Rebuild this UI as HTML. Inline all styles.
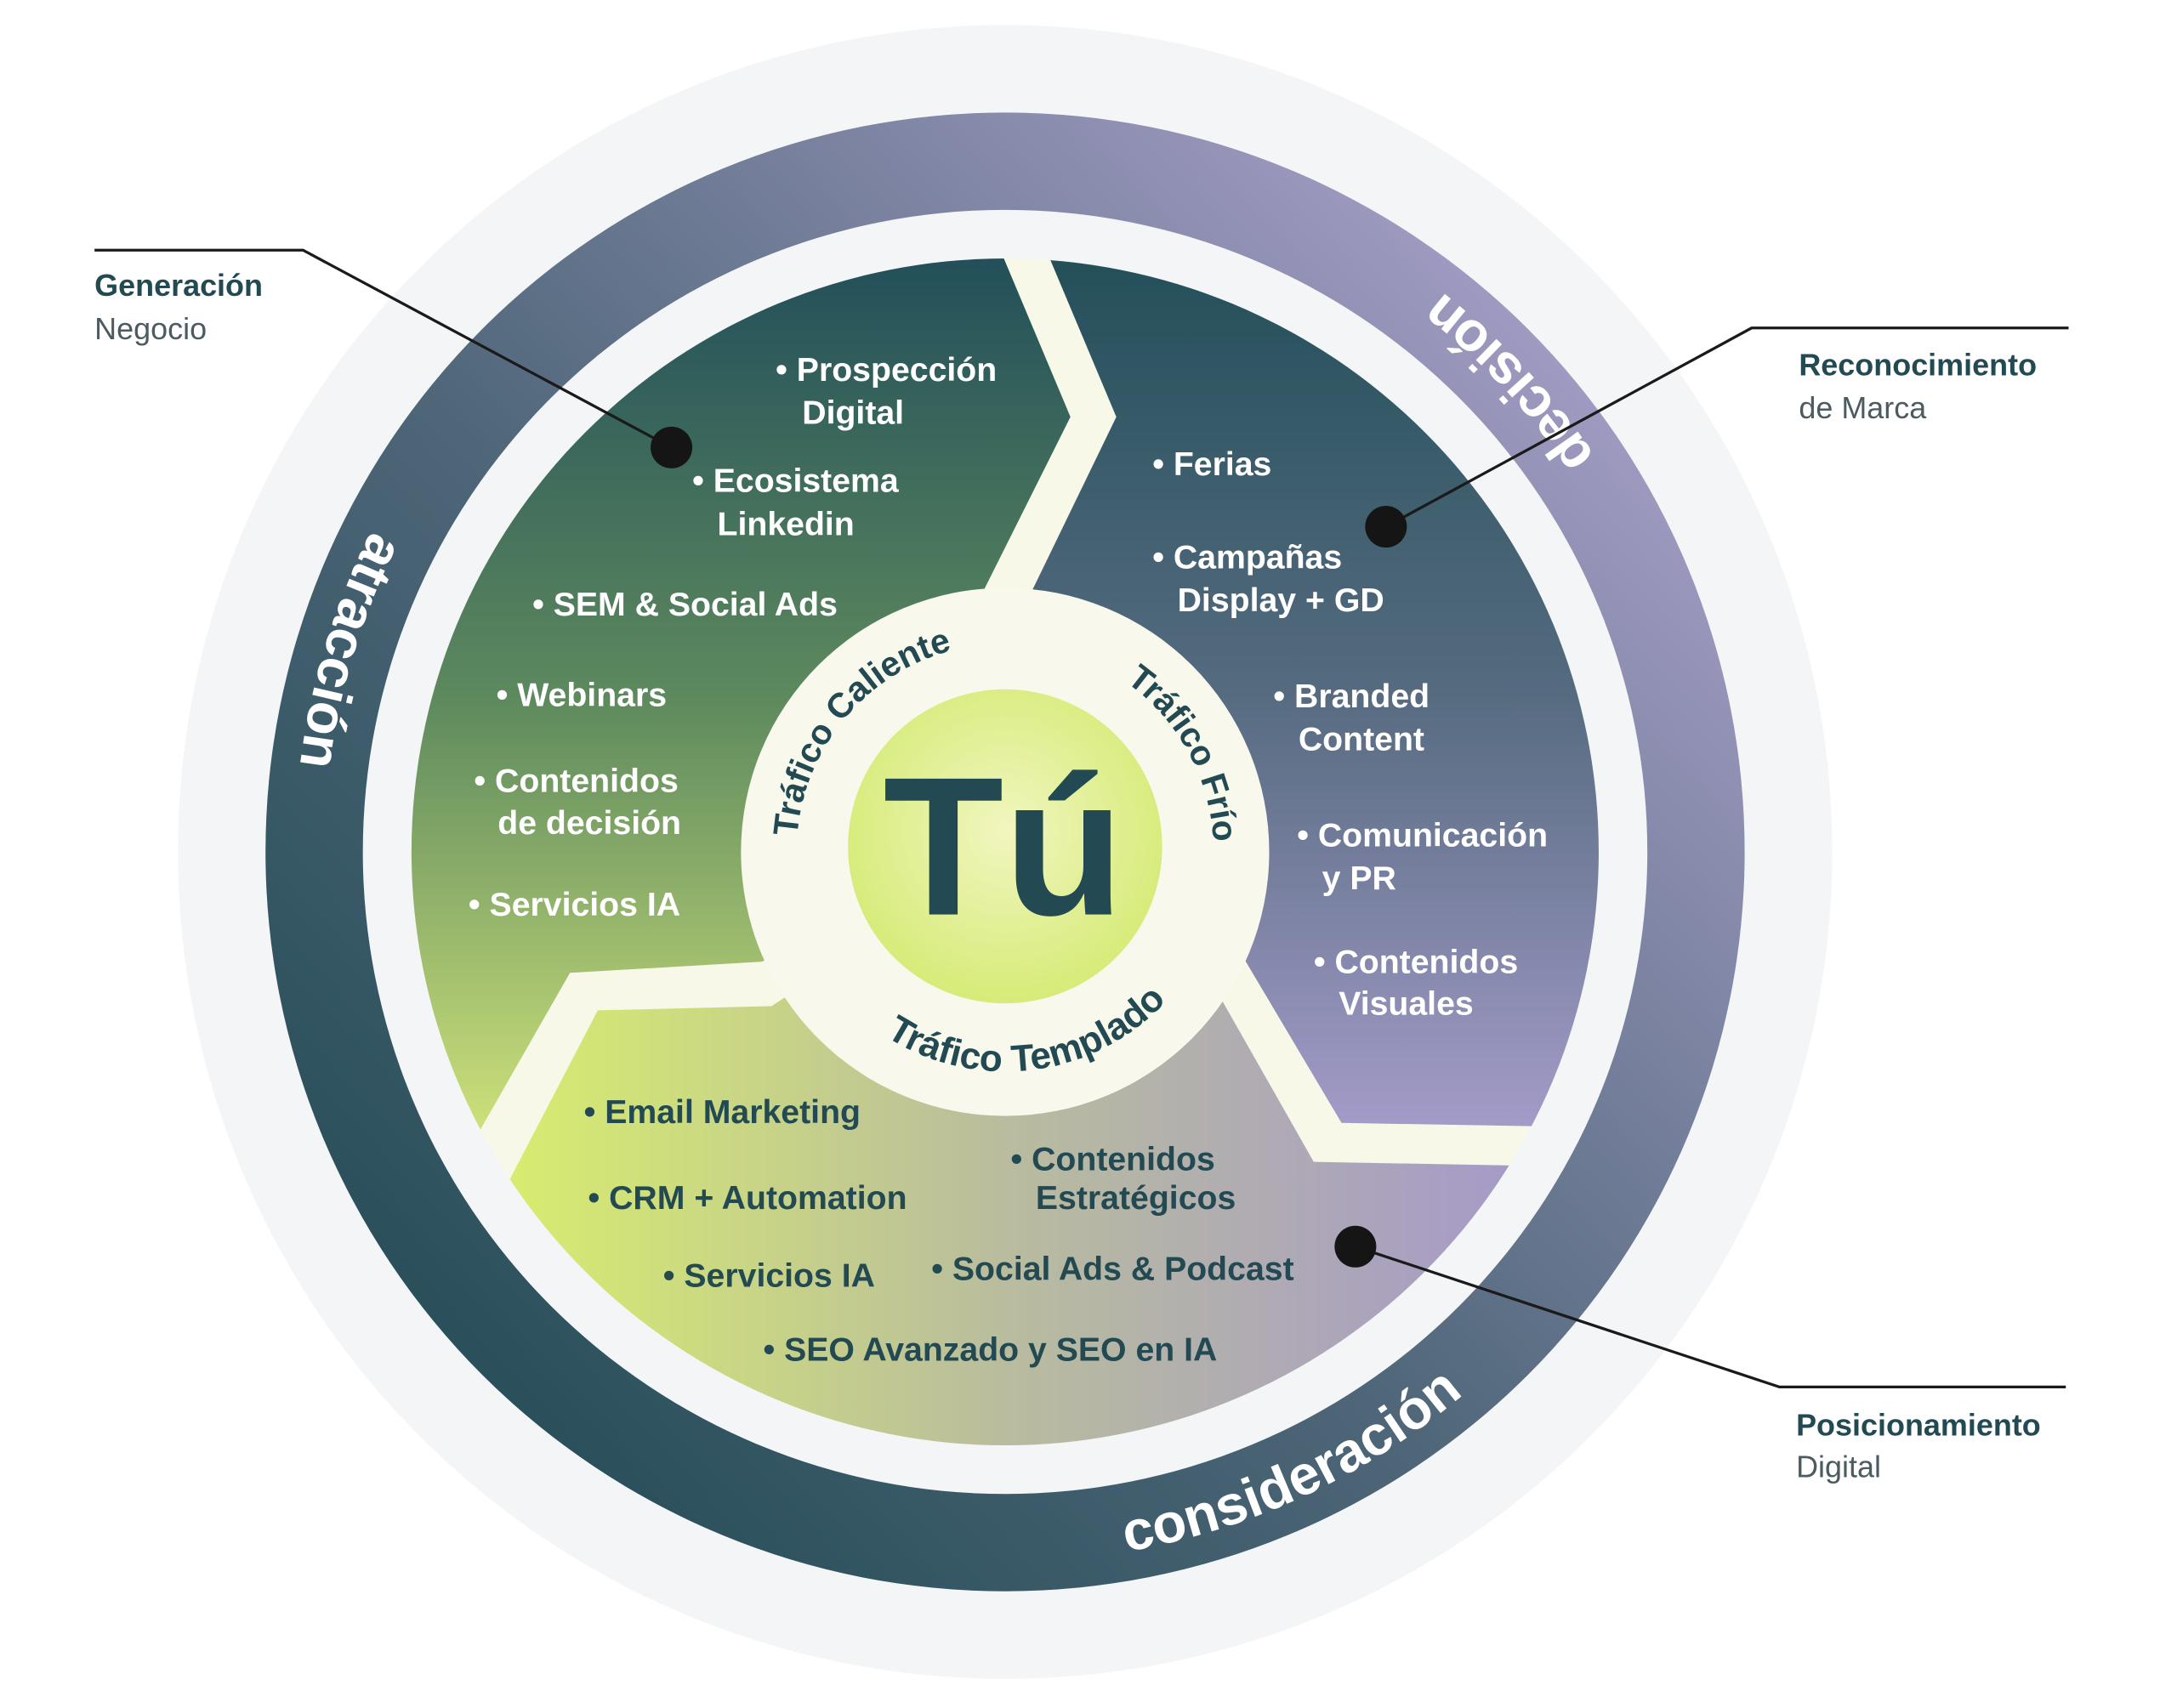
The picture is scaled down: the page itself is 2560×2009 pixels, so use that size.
<!DOCTYPE html>
<html><head><meta charset="utf-8">
<style>
html,body{margin:0;padding:0;background:#fff;}
svg{display:block;}
.w{fill:#fff;font-family:"Liberation Sans",sans-serif;font-weight:bold;font-size:24px;}
.d{fill:#234a52;font-family:"Liberation Sans",sans-serif;font-weight:bold;font-size:24px;}
.ring{fill:#fff;font-family:"Liberation Sans",sans-serif;font-size:40px;font-weight:bold;}
.arc{fill:#234a52;font-family:"Liberation Sans",sans-serif;font-size:25px;font-weight:bold;}
.arc2{fill:#234a52;font-family:"Liberation Sans",sans-serif;font-size:27px;font-weight:bold;}
.lb{fill:#234a52;font-family:"Liberation Sans",sans-serif;font-size:22px;font-weight:bold;}
.ls{fill:#4c5b61;font-family:"Liberation Sans",sans-serif;font-size:22px;}
</style></head>
<body>
<svg width="2560" height="2009" viewBox="0 0 1566 1229" preserveAspectRatio="none" xmlns="http://www.w3.org/2000/svg">
<defs>
<linearGradient id="ringG" x1="300" y1="1050" x2="1150" y2="250" gradientUnits="userSpaceOnUse">
<stop offset="0" stop-color="#244c56"/><stop offset="0.45" stop-color="#4e6678"/><stop offset="1" stop-color="#a29cc4"/>
</linearGradient>
<linearGradient id="gG" x1="0" y1="190" x2="0" y2="820" gradientUnits="userSpaceOnUse">
<stop offset="0" stop-color="#23505a"/><stop offset="0.5" stop-color="#5e8a5e"/><stop offset="1" stop-color="#cfe27a"/>
</linearGradient>
<linearGradient id="rG" x1="0" y1="190" x2="0" y2="810" gradientUnits="userSpaceOnUse">
<stop offset="0" stop-color="#24505a"/><stop offset="0.5" stop-color="#566b80"/><stop offset="1" stop-color="#a39bc8"/>
</linearGradient>
<linearGradient id="bG" x1="360" y1="0" x2="1090" y2="0" gradientUnits="userSpaceOnUse">
<stop offset="0" stop-color="#d8ed6e"/><stop offset="0.5" stop-color="#b9bc9e"/><stop offset="1" stop-color="#a69ac8"/>
</linearGradient>
<radialGradient id="tuG" cx="0.5" cy="0.45" r="0.55">
<stop offset="0" stop-color="#f1f6bf"/><stop offset="1" stop-color="#d6eb78"/>
</radialGradient>
<clipPath id="disk"><circle cx="723" cy="613" r="427"/></clipPath>
<path id="ringP" d="M1234,613 A511,511 0 1 0 212,613 A511,511 0 1 0 1234,613"/>
<path id="inCW" d="M573,613 A150,150 0 1 1 873,613 A150,150 0 1 1 573,613"/>
<path id="inCCW" d="M881,613 A158,158 0 1 0 565,613 A158,158 0 1 0 881,613"/>
</defs>
<rect width="1566" height="1229" fill="#fff"/>
<circle cx="723" cy="613" r="595" fill="#f3f5f6"/>
<circle cx="723" cy="613" r="532" fill="url(#ringG)"/>
<circle cx="723" cy="613" r="462" fill="#f3f5f6"/>
<circle cx="723" cy="613" r="427" fill="#f7f8e8"/>
<g clip-path="url(#disk)">
<polygon fill="url(#gG)" points="707,150 770,300 705,430 723,613 548,692 410,700 330,840 250,840 250,150"/>
<polygon fill="url(#rG)" points="740,150 803,300 740,430 723,613 895,690 965,808 1200,812 1200,150"/>
<polygon fill="url(#bG)" points="723,613 555,724 430,727 340,900 330,1100 1160,1100 1160,840 945,836 878,718"/>
</g>
<circle cx="723" cy="613" r="190" fill="#f8f8ec"/>
<circle cx="723" cy="609" r="113" fill="url(#tuG)"/>
<text x="722" y="658" text-anchor="middle" fill="#234a52" font-family="Liberation Sans,sans-serif" font-weight="bold" font-size="142">Tú</text>

<text class="ring"><textPath href="#ringP" startOffset="383" text-anchor="middle">decisión</textPath></text>
<text class="ring"><textPath href="#ringP" startOffset="1454" text-anchor="middle">atracción</textPath></text>
<text class="ring"><textPath href="#ringP" startOffset="2631" text-anchor="middle">consideración</textPath></text>

<text class="arc"><textPath href="#inCW" startOffset="104" text-anchor="middle">Tráfico Caliente</textPath></text>
<text class="arc"><textPath href="#inCW" startOffset="396" text-anchor="middle">Tráfico Frío</textPath></text>
<text class="arc2"><textPath href="#inCCW" startOffset="764" text-anchor="middle">Tráfico Templado</textPath></text>

<g class="w">
<text x="558" y="274">• Prospección</text><text x="577" y="305">Digital</text>
<text x="498" y="354">• Ecosistema</text><text x="516" y="385">Linkedin</text>
<text x="383" y="443">• SEM &amp; Social Ads</text>
<text x="357" y="508">• Webinars</text>
<text x="341" y="570">• Contenidos</text><text x="358" y="600">de decisión</text>
<text x="337" y="659">• Servicios IA</text>
<text x="829" y="342">• Ferias</text>
<text x="829" y="409">• Campañas</text><text x="847" y="440">Display + GD</text>
<text x="916" y="509">• Branded</text><text x="934" y="540">Content</text>
<text x="933" y="609">• Comunicación</text><text x="951" y="640">y PR</text>
<text x="945" y="700">• Contenidos</text><text x="963" y="730">Visuales</text>
</g>
<g class="d">
<text x="420" y="808">• Email Marketing</text>
<text x="423" y="870">• CRM + Automation</text>
<text x="727" y="842">• Contenidos</text><text x="745" y="870">Estratégicos</text>
<text x="477" y="926">• Servicios IA</text>
<text x="670" y="921">• Social Ads &amp; Podcast</text>
<text x="549" y="979">• SEO Avanzado y SEO en IA</text>
</g>

<g stroke="#1a1a1a" stroke-width="2" fill="none">
<polyline points="483,322 218,180 68,180"/>
<polyline points="997,379 1260,236 1488,236"/>
<polyline points="975,897 1280,998 1486,998"/>
</g>
<g fill="#151515">
<circle cx="483" cy="322" r="15"/><circle cx="997" cy="379" r="15"/><circle cx="975" cy="897" r="15"/>
</g>
<text class="lb" x="68" y="213">Generación</text><text class="ls" x="68" y="244">Negocio</text>
<text class="lb" x="1294" y="270">Reconocimiento</text><text class="ls" x="1294" y="301">de Marca</text>
<text class="lb" x="1292" y="1033">Posicionamiento</text><text class="ls" x="1292" y="1063">Digital</text>
</svg>
</body></html>
